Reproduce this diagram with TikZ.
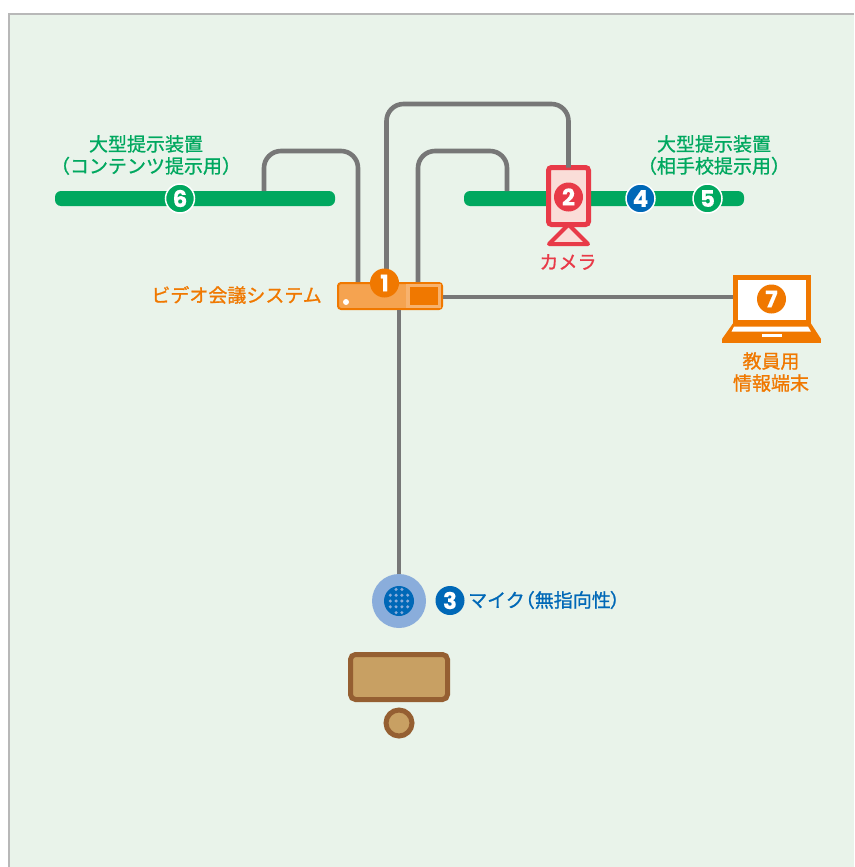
\documentclass[tikz,border=0pt]{standalone}
\usepackage{fontspec}
\usepackage{tikz}
\setmainfont[FakeBold=1]{Noto Sans CJK JP}
\newfontfamily\numfont[BoldFeatures={FakeBold=0.25}]{Poppins}
\definecolor{panelbg}{HTML}{E9F3EA}
\definecolor{panelline}{HTML}{B8B8B8}
\definecolor{cablegray}{HTML}{777777}
\definecolor{dispgreen}{HTML}{00A85F}
\definecolor{sysorange}{HTML}{F07800}
\definecolor{syslight}{HTML}{F5A350}
\definecolor{sysband}{HTML}{F7B26E}
\definecolor{camred}{HTML}{E83A48}
\definecolor{campink}{HTML}{FADDD8}
\definecolor{micblue}{HTML}{0068B7}
\definecolor{miclight}{HTML}{8AADDB}
\definecolor{deskbrown}{HTML}{955F32}
\definecolor{desktan}{HTML}{C8A063}
\tikzstyle{cable} = [draw = cablegray, line width = 4.6pt, rounded corners = 17pt]
\tikzstyle{display} = [rectangle, rounded corners = 6pt, fill = dispgreen, minimum width = 280pt, minimum height = 15pt, inner sep = 0pt, outer sep = 0pt]
\tikzstyle{badge} = [circle, minimum size = 29pt, inner sep = 0pt, outer sep = 0pt, text = white, font = \numfont\bfseries\fontsize{23pt}{23pt}\selectfont]
\tikzstyle{ringed} = [draw = white, line width = 1.5pt]
\tikzstyle{label} = [inner sep = 0pt, align = center, font = \fontsize{19pt}{22pt}\selectfont]
\usetikzlibrary{shapes.geometric, arrows}

\begin{document}
\begin{tikzpicture}[x = 1pt, y = -1pt]
	\useasboundingbox (0,0) rectangle (854,867);
	%--Panel--%
	\fill[panelbg] (9,14) rectangle (854,867);
	\draw[panelline, line width = 2pt] (854,14) -- (9,14) -- (9,867);

	%--Displays--%
	\node(dispL)[display] at (195,198.5){};
	\node(dispR)[display] at (604,198.5){};

	%--Camera--%
	\node(cam)[rectangle, rounded corners = 3pt, draw = camred, fill = campink, line width = 5pt, minimum width = 40pt, minimum height = 57pt, inner sep = 0pt, outer sep = 0pt] at (568.5,196){};
	\draw[draw = camred, fill = campink, line width = 4pt, line join = round] (cam.south) -- ++(19.5,19.5) -- ++(-39,0) -- cycle;
	\fill[camred] ([xshift = -20pt]cam.south) rectangle ([xshift = 20pt, yshift = 2.5pt]cam.south);

	%--Video Conference System--%
	\node(sys)[rectangle, rounded corners = 3pt, draw = sysorange, fill = syslight, line width = 2pt, minimum width = 104pt, minimum height = 26pt, inner sep = 0pt, outer sep = 1pt] at (390,296){};
	\fill[sysband] (406,284) rectangle (441,308);
	\node(sysport)[rectangle, fill = sysorange, minimum width = 28pt, minimum height = 18pt, inner sep = 0pt] at (424,296){};
	\fill[white] (346,302) circle (3pt);

	%--Laptop--%
	\node(laptop)[rectangle, draw = sysorange, fill = white, line width = 5pt, minimum width = 73pt, minimum height = 45pt, inner sep = 0pt, outer sep = 2.5pt] at (772,300){};
	\fill[sysorange] (734,322) -- (810,322) -- (821,339) -- (722,339) -- cycle;
	\fill[white] (734,326.5) -- (808,326.5) -- (811,331.7) -- (731.5,331.7) -- cycle;
	\fill[white] (762,334) rectangle (782,337);
	\fill[sysorange] (722,339) rectangle (821,343);

	%--Microphone--%
	\node(mic)[circle, fill = miclight, minimum size = 54pt, inner sep = 0pt, outer sep = 0pt] at (399,601){};
	\node(micin)[circle, fill = micblue, minimum size = 30pt, inner sep = 0pt] at (399,601){};
	\foreach \i in {-1.5,-0.5,0.5,1.5}{
		\foreach \j in {-1,0,1}{
			\fill[miclight] (399+5.8*\i,601+5.8*\j) circle (1.7pt);
		}
	}
	\foreach \i in {-0.5,0.5}{
		\foreach \j in {-2,2}{
			\fill[miclight] (399+5.8*\i,601+5.8*\j) circle (1.7pt);
		}
	}

	%--Desk--%
	\node(desk)[rectangle, rounded corners = 5pt, draw = deskbrown, fill = desktan, line width = 5pt, minimum width = 97pt, minimum height = 45pt, inner sep = 0pt, below of = mic, node distance = 76pt]{};
	\node(chair)[circle, draw = deskbrown, fill = desktan, line width = 5pt, minimum size = 26pt, inner sep = 0pt, below of = desk, node distance = 46pt]{};

	%--Cables--%
	\coordinate(wireL) at (310,151);
	\coordinate(wireM) at (480,104);
	\coordinate(wireR) at (460,151);
	\draw[cable] ([xshift = -32pt]sys.north) |- (wireL) -| ([xshift = 69pt]dispL.north);
	\draw[cable] ([xshift = -3.5pt]sys.north) |- (wireM) -| (cam.north);
	\draw[cable] ([xshift = 28pt]sys.north) |- (wireR) -| ([xshift = -97pt]dispR.north);
	\draw[cable] ([yshift = -1pt]sys.east) -- ([yshift = -1pt]sys.east -| laptop.west);
	\draw[cable] ([xshift = 9pt]sys.south) -- (mic.north);

	%--Numbers--%
	\node(n1)[badge, fill = sysorange] at (384.5,283){1};
	\node(n2)[badge, fill = camred] at (568.5,197){2};
	\node(n3)[badge, fill = micblue] at (450,600.5){3};
	\node(n4)[badge, fill = micblue, ringed] at (640.5,198.5){4};
	\node(n5)[badge, fill = dispgreen, ringed, right of = n4, node distance = 67pt]{5};
	\node(n6)[badge, fill = dispgreen, ringed] at (180,198.5){6};
	\node(n7)[badge, fill = sysorange] at (771.5,299){7};

	%--Labels--%
	\node(lblL)[label, text = dispgreen] at (146,155){大型提示装置\\（コンテンツ提示用）};
	\node(lblR)[label, text = dispgreen] at (714,155){大型提示装置\\（相手校提示用）};
	\node(lblcam)[label, text = camred] at (568,262){カメラ};
	\node(lblsys)[label, text = sysorange, anchor = east] at (322,295){ビデオ会議システム};
	\node(lbllap)[label, text = sysorange] at (771,372){教員用\\情報端末};
	\node(lblmic)[label, text = micblue, anchor = west] at (468,600){マイク\kern-9pt（無指向性\kern-1pt）};
\end{tikzpicture}
\end{document}
